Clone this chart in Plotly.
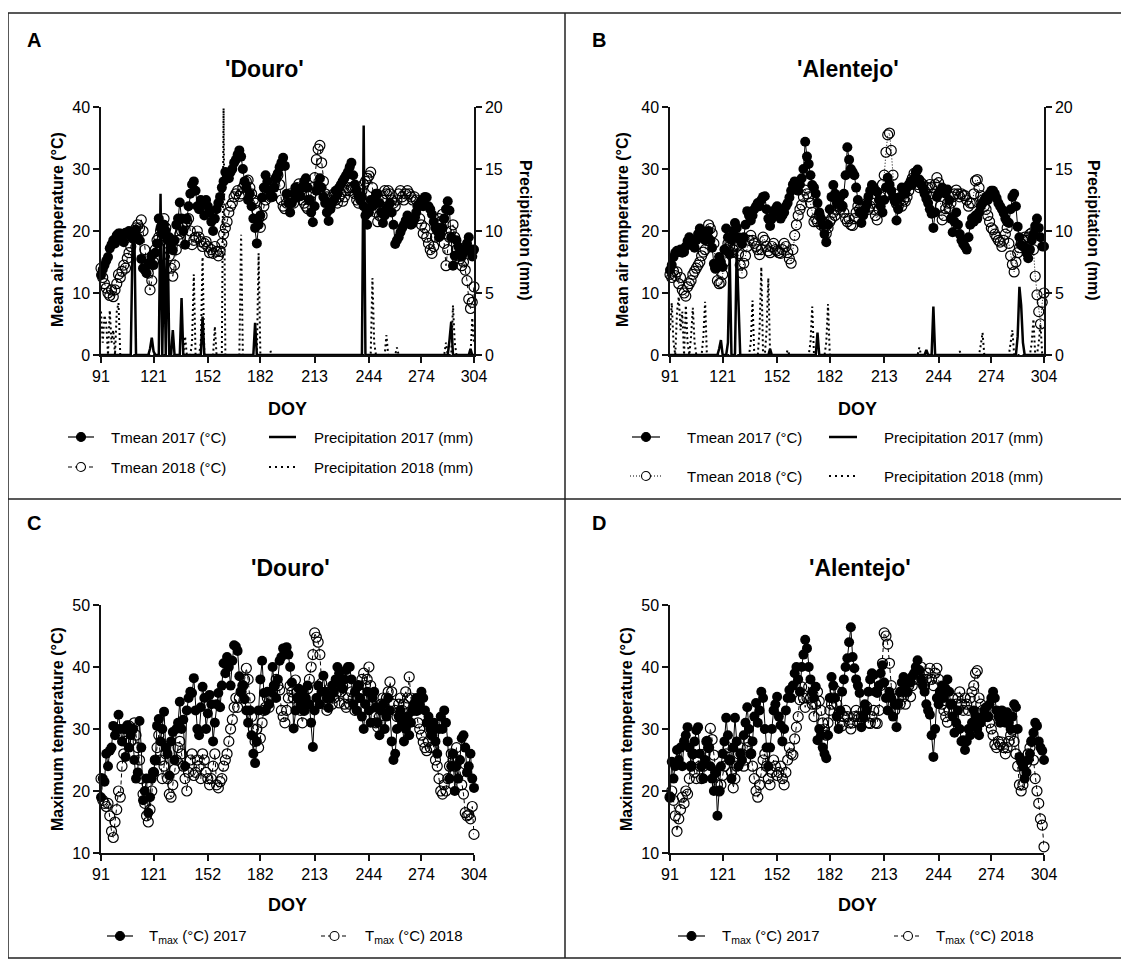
import plotly.graph_objects as go

# the page body has an 8px margin, so the figure is drawn 8px smaller and
# every layout position below is given in window pixels
OFF = 8
W, H = 1129 - OFF, 961 - OFF
FONT = "Liberation Sans, Arial, sans-serif"

doy = list(range(91, 305))
doy_ticks = [91, 121, 152, 182, 213, 244, 274, 304]

# Mean air temperature, Douro
tmean_douro_2017 = [
    12.9, 13.8, 14.5, 15.2, 15.8, 17.2, 17.8, 18.5, 18.0, 19.3,
    19.6, 19.6, 19.0, 18.2, 19.7, 19.6, 20.0, 19.3, 18.8, 19.5,
    20.2, 19.0, 18.5, 15.5, 14.0, 13.7, 13.2, 14.6, 15.0, 16.0,
    14.5, 16.5, 18.0, 22.0, 20.5, 19.5, 21.0, 20.0, 18.5, 19.0,
    17.8, 16.9, 18.5, 21.0, 22.0, 24.6, 22.0, 20.0, 17.8, 22.0,
    24.0, 26.0, 27.5, 28.0, 26.5, 24.0, 23.5, 25.0, 24.5, 22.5,
    25.0, 24.0, 23.0, 21.5, 20.0, 22.0, 23.5, 24.5, 25.5, 27.0,
    28.0, 29.5, 29.0, 28.5, 29.5, 30.0, 31.0, 31.5, 32.3, 33.0,
    32.0, 30.0, 28.0, 27.0, 25.0, 26.0, 24.0, 22.0, 20.5, 18.0,
    21.0, 22.5, 25.4, 27.0, 29.0, 28.0, 26.5, 25.6, 25.5, 27.0,
    28.5, 29.3, 30.3, 31.0, 31.8, 30.5, 26.0, 24.5, 23.0, 24.5,
    26.0, 27.0, 25.5, 26.5, 25.6, 27.0, 28.0, 28.5, 27.0, 25.0,
    23.0, 21.4, 24.0, 26.5, 27.5, 28.5, 27.0, 25.5, 24.5, 23.0,
    21.6, 23.5, 24.5, 25.0, 26.5, 26.0, 27.0, 27.5, 28.0, 28.5,
    29.0, 29.5, 30.3, 31.0, 29.0, 27.5, 26.5, 25.7, 25.0, 25.5,
    24.0, 22.5, 21.0, 23.0, 25.0, 24.0, 25.0, 26.0, 26.0, 24.5,
    23.0, 21.3, 22.5, 23.5, 24.0, 24.5, 23.0, 21.0, 17.9, 18.5,
    19.0, 19.8, 20.5, 21.0, 21.7, 22.5, 21.8, 21.0, 21.2, 22.0,
    23.0, 24.0, 24.5, 25.0, 24.0, 25.5, 25.4, 24.0, 23.5, 22.7,
    21.5, 20.5, 20.0, 19.0, 19.5, 20.5, 22.0, 23.5, 24.8, 23.3,
    19.0, 14.4, 16.0, 18.5, 17.5, 16.5, 15.9, 16.5, 17.0, 18.0,
    19.0, 17.0, 15.9, 17.0,
]
tmean_douro_2018 = [
    14.0, 12.5, 11.5, 10.8, 10.0, 9.6, 10.5, 9.4, 10.5, 11.5,
    13.0, 12.5, 13.5, 14.5, 14.0, 15.6, 16.5, 17.5, 19.0, 19.5,
    20.5, 21.0, 20.5, 21.8, 20.0, 17.0, 15.0, 13.2, 10.5, 12.0,
    15.0, 17.0, 18.5, 19.0, 20.0, 21.0, 22.0, 20.5, 18.0, 16.0,
    14.0, 12.7, 14.5, 17.0, 18.5, 19.5, 20.0, 20.5, 21.0, 21.5,
    22.0, 20.0, 17.8, 18.5, 19.0, 20.0, 19.0, 18.3, 17.5, 18.0,
    18.3, 17.5, 16.5, 17.0, 16.4, 17.5, 16.7, 16.0, 16.7, 18.0,
    19.5, 20.5, 21.5, 23.0, 24.0, 24.5, 25.5, 26.0, 26.5, 25.6,
    26.0, 27.0, 27.5, 28.0, 28.2, 27.0, 26.0, 25.0, 24.5, 23.3,
    22.0, 20.6, 22.5, 24.0, 25.0, 26.5, 26.0, 25.5, 27.0, 28.0,
    28.5, 29.0, 27.5, 25.0, 24.0, 23.6, 24.5, 25.5, 26.0, 25.0,
    24.5, 26.0, 27.0, 27.6, 26.5, 25.0, 24.5, 24.0, 23.6, 25.0,
    26.0, 27.0, 28.6, 31.5, 33.2, 33.8, 31.0, 28.0, 26.0, 25.5,
    25.0, 24.5, 25.5, 26.0, 25.0, 24.5, 25.5, 26.0, 24.8, 25.5,
    26.5, 27.0, 26.5, 27.0, 27.0, 26.0, 25.0, 24.5, 25.5, 26.5,
    27.5, 28.0, 28.5, 28.9, 29.5, 27.0, 25.0, 23.0, 21.5, 22.5,
    24.0, 25.0, 26.5, 26.0, 26.5, 26.0, 25.0, 24.5, 24.0, 25.0,
    26.0, 26.5, 25.5, 25.0, 26.0, 26.5, 26.0, 25.5, 25.0, 25.5,
    25.0, 24.0, 22.0, 21.0, 19.6, 20.5, 19.0, 18.0, 17.0, 16.4,
    17.5, 19.0, 21.0, 22.0, 21.5, 22.7, 18.0, 14.4, 17.0, 19.0,
    20.0, 21.0, 19.0, 17.0, 16.0, 15.5, 14.4, 15.0, 13.7, 12.0,
    9.0, 7.5, 8.5, 11.0,
]

# Mean air temperature, Alentejo
tmean_alentejo_2017 = [
    13.7, 14.5, 15.8, 16.5, 16.8, 16.6, 17.0, 16.5, 16.6, 17.5,
    18.4, 19.0, 18.5, 18.0, 17.3, 18.5, 19.5, 20.4, 19.8, 19.0,
    18.5, 19.3, 20.0, 18.5, 17.3, 14.7, 14.0, 14.5, 15.8, 15.0,
    14.2, 17.0, 20.4, 19.0, 16.3, 18.5, 20.0, 21.3, 20.5, 19.0,
    18.5, 17.9, 19.0, 21.0, 23.2, 22.5, 21.7, 22.5, 23.5, 24.0,
    24.5, 24.0, 25.0, 25.5, 25.6, 23.5, 22.0, 20.8, 22.0, 23.0,
    23.5, 24.0, 23.0, 22.0, 22.5, 23.0, 24.0, 24.5, 25.4, 26.5,
    27.5, 28.0, 27.0, 26.5, 27.5, 28.5, 30.0, 34.4, 32.0, 30.8,
    29.0, 27.4, 27.0, 26.0, 24.5, 23.0, 22.0, 21.0, 19.5, 18.2,
    21.0, 23.5, 25.5, 27.4, 26.0, 24.5, 25.0, 25.5, 24.0, 26.0,
    29.0, 33.5, 31.5, 30.0, 29.5, 29.0, 27.0, 25.0, 23.0, 21.3,
    22.5, 23.5, 24.3, 25.5, 26.5, 27.4, 27.0, 26.5, 26.3, 25.0,
    24.0, 23.0, 25.0, 27.0, 28.6, 27.5, 26.5, 25.5, 24.8, 21.7,
    23.5, 25.5, 27.0, 26.5, 26.0, 27.0, 27.5, 28.0, 27.5, 28.5,
    29.5, 29.9, 28.3, 27.5, 27.0, 26.0, 25.2, 24.5, 23.5, 22.8,
    20.5, 23.0, 25.5, 26.0, 26.5, 27.0, 26.5, 26.0, 26.7, 25.0,
    22.0, 19.8, 21.5, 23.0, 21.0, 19.5, 18.5, 17.9, 17.5, 17.0,
    19.0, 21.0, 22.0, 21.5, 22.5, 22.0, 23.0, 24.0, 24.5, 25.0,
    25.5, 25.0, 26.0, 26.5, 26.5, 26.0, 25.3, 24.5, 24.0, 23.5,
    22.9, 22.0, 21.5, 21.3, 23.5, 25.5, 26.0, 24.0, 20.7, 19.0,
    17.7, 17.5, 17.4, 16.5, 15.6, 17.0, 18.5, 19.5, 20.8, 22.0,
    20.5, 19.0, 17.5, 17.5,
]
tmean_alentejo_2018 = [
    13.0, 12.5, 13.5, 12.8, 13.4, 11.5, 12.5, 10.5, 10.0, 9.5,
    11.0, 11.5, 12.0, 13.0, 13.5, 14.0, 14.5, 15.0, 16.0, 16.6,
    17.0, 18.5, 21.0, 20.4, 19.6, 18.0, 14.0, 12.0, 11.5, 11.7,
    13.0, 15.0, 17.0, 18.0, 17.5, 16.5, 17.0, 18.5, 17.5, 16.3,
    14.5, 13.2, 14.8, 16.0, 17.5, 18.5, 19.3, 18.5, 18.0, 17.5,
    17.0, 16.2, 17.0, 19.0, 18.5, 17.5, 16.8, 16.5, 17.5, 18.0,
    17.0, 16.8, 16.5, 16.4, 17.0, 18.0, 17.5, 16.5, 15.5, 14.8,
    17.0, 19.3, 21.0, 22.5, 23.5, 24.2, 25.5, 26.6, 26.0, 25.5,
    24.5, 23.0, 21.5, 22.0, 21.5, 22.5, 21.0, 21.5, 20.5, 19.6,
    20.5, 21.5, 22.0, 23.0, 22.5, 23.5, 24.0, 23.5, 24.0, 23.0,
    22.0, 21.5, 22.0, 21.0, 20.9, 22.0, 23.0, 24.0, 23.5, 23.0,
    23.0, 24.0, 24.5, 23.5, 24.0, 24.5, 23.5, 22.5, 21.8, 23.5,
    25.5, 27.5, 29.0, 32.7, 35.5, 35.8, 33.0, 29.0, 26.0, 24.4,
    24.0, 25.0, 24.0, 25.0, 24.8, 25.5, 26.5, 27.5, 28.5, 29.3,
    28.5, 27.5, 27.0, 27.8, 27.5, 26.5, 26.0, 27.0, 27.5, 27.0,
    26.0, 27.5, 28.6, 27.8, 24.0, 21.8, 22.5, 23.6, 24.5, 23.6,
    24.5, 25.5, 26.0, 26.6, 26.0, 25.5, 26.0, 25.7, 25.7, 25.0,
    24.0, 24.5, 24.5, 26.0, 28.1, 28.3, 27.0, 25.7, 25.0, 24.0,
    23.5, 22.5, 21.5, 20.5, 20.2, 19.5, 19.0, 18.5, 18.2, 17.5,
    18.5, 19.5, 20.5, 18.0, 16.0, 14.6, 13.4, 15.0, 16.5, 17.3,
    18.0, 18.5, 19.0, 18.5, 19.0, 19.5, 19.7, 17.0, 12.7, 9.7,
    7.0, 5.0, 8.5, 10.0,
]

# Precipitation: rainy days only, every other day is 0 mm
rain_douro_2017_days = [109, 110, 119, 120, 121, 125, 127, 129, 132, 137, 149, 179, 241, 290, 291, 302]
rain_douro_2017_mm = [9.0, 10.5, 0.5, 1.4, 0.3, 13.0, 9.0, 10.3, 2.0, 4.6, 3.1, 2.6, 18.5, 1.2, 2.7, 0.5]
rain_douro_2018_days = [91, 92, 93, 94, 96, 97, 98, 100, 101, 139, 143, 144, 148, 149, 156, 161,
                        171, 181, 188, 246, 247, 254, 260, 288, 292, 293, 303, 304]
rain_douro_2018_mm = [3.5, 1.0, 3.2, 2.5, 3.6, 1.0, 2.0, 3.5, 4.2, 1.5, 1.0, 6.5, 1.0, 7.9, 2.3, 19.9,
                      9.7, 8.2, 0.3, 6.2, 1.0, 1.6, 0.6, 1.0, 4.0, 1.0, 3.0, 1.0]
rain_alentejo_2017_days = [119, 120, 124, 125, 129, 130, 148, 175, 237, 241, 289, 290, 291, 292]
rain_alentejo_2017_mm = [0.5, 1.2, 1.0, 8.0, 8.6, 3.8, 0.5, 1.8, 0.4, 3.9, 1.5, 5.5, 4.0, 1.0]
rain_alentejo_2018_days = [91, 92, 93, 95, 96, 97, 98, 100, 101, 103, 104, 105, 110, 111, 137, 138,
                           142, 143, 146, 147, 158, 171, 172, 180, 181, 233, 256, 268, 269, 285,
                           286, 297, 298, 301, 302]
rain_alentejo_2018_mm = [2.0, 4.2, 1.0, 3.5, 4.7, 2.0, 3.5, 4.0, 1.0, 1.5, 3.8, 1.0, 1.5, 4.3, 1.0, 4.4,
                         2.0, 7.1, 2.0, 6.2, 0.4, 1.0, 3.9, 1.0, 4.1, 0.6, 0.3, 0.8, 1.8, 1.0,
                         2.0, 1.0, 2.9, 1.0, 2.5]

# Maximum temperature
tmax_douro_2017 = [
    19.0, 22.0, 21.5, 26.0, 24.0, 26.5, 27.0, 30.5, 29.0, 30.0,
    32.3, 30.0, 28.0, 30.0, 25.5, 30.6, 27.0, 29.0, 30.0, 25.0,
    22.0, 23.0, 31.3, 27.0, 18.5, 20.0, 22.0, 16.5, 19.0, 22.0,
    23.0, 25.0, 30.5, 31.6, 28.0, 30.0, 32.8, 27.0, 26.0, 22.5,
    28.0, 29.5, 25.0, 30.0, 31.0, 34.4, 30.0, 31.5, 24.0, 33.0,
    35.0, 36.0, 35.8, 38.2, 33.0, 30.0, 29.0, 33.5, 36.8, 35.0,
    30.0, 32.5, 35.5, 34.0, 28.0, 31.0, 34.0, 35.8, 33.5, 37.0,
    40.6, 39.0, 41.6, 40.0, 37.0, 41.0, 43.5, 43.3, 42.6, 38.5,
    36.0, 37.0, 34.8, 33.0, 31.0, 33.0, 29.0, 26.0, 24.5, 28.0,
    33.0, 38.0, 41.0, 35.8, 33.0, 36.0, 34.0, 36.0, 40.0, 37.0,
    35.0, 38.0, 41.0, 41.6, 43.0, 42.5, 43.2, 42.0, 40.0, 37.5,
    30.1, 33.0, 35.0, 36.5, 34.0, 36.0, 33.0, 35.0, 37.0, 34.0,
    31.0, 27.1, 33.0, 35.0, 37.0, 34.0, 36.0, 38.6, 36.0, 35.0,
    33.4, 35.0, 37.0, 36.0, 38.0, 40.0, 39.0, 37.0, 36.5, 38.0,
    39.5, 40.0, 40.0, 38.0, 34.0, 36.0, 33.0, 37.0, 35.0, 32.0,
    30.0, 34.0, 36.0, 33.0, 31.0, 35.0, 36.0, 33.5, 31.0, 29.0,
    33.0, 34.0, 30.0, 32.0, 35.0, 33.0, 28.0, 25.0, 26.0, 30.0,
    32.0, 33.0, 31.0, 28.0, 30.0, 32.0, 29.0, 31.0, 33.0, 34.0,
    35.0, 33.0, 34.0, 36.0, 35.0, 33.0, 31.0, 32.0, 30.0, 29.0,
    31.0, 28.0, 26.0, 30.0, 32.0, 30.0, 33.0, 31.0, 28.0, 22.0,
    24.0, 26.0, 20.0, 24.0, 22.0, 25.0, 28.5, 29.0, 27.0, 23.0,
    24.0, 26.0, 22.0, 20.5,
]
tmax_douro_2018 = [
    22.0, 18.5, 18.0, 17.5, 18.0, 16.0, 13.5, 12.5, 15.0, 17.0,
    20.0, 19.0, 24.0, 26.0, 28.0, 30.0, 30.5, 28.0, 30.0, 31.0,
    29.0, 27.0, 25.0, 22.0, 19.5, 18.0, 16.0, 15.0, 17.0, 20.0,
    23.0, 25.0, 27.0, 29.0, 25.0, 22.0, 24.0, 26.0, 22.0, 19.5,
    19.0, 21.0, 23.5, 25.0, 27.0, 28.0, 26.0, 24.0, 22.0, 20.0,
    23.0, 25.0, 26.0, 22.5, 23.0, 25.0, 24.0, 22.0, 26.0, 25.0,
    23.0, 22.0, 21.0, 22.0, 24.0, 26.0, 21.0, 20.5, 21.5, 22.0,
    24.0, 25.0, 26.0, 28.0, 30.0, 31.5, 33.5, 35.0, 33.5, 35.0,
    36.0, 37.0, 38.0, 39.8, 38.0, 35.0, 32.0, 30.0, 28.0, 30.0,
    27.0, 28.5, 31.0, 33.0, 33.5, 35.0, 33.5, 35.0, 36.0, 37.0,
    38.0, 37.0, 36.3, 33.0, 32.0, 31.0, 33.0, 35.0, 37.0, 36.0,
    35.0, 37.9, 36.0, 34.0, 33.0, 31.0, 33.0, 34.0, 36.5, 38.0,
    40.0, 42.0, 45.5, 44.8, 44.0, 42.0, 37.4, 35.0, 34.0, 33.0,
    35.0, 36.0, 34.0, 35.0, 37.0, 36.0, 34.2, 36.0, 37.0, 34.0,
    33.5, 35.0, 34.0, 36.0, 35.0, 33.0, 35.0, 37.0, 36.0, 38.0,
    39.0, 37.0, 38.0, 40.0, 37.0, 34.0, 32.0, 31.0, 30.3, 32.0,
    34.0, 35.0, 33.0, 35.0, 36.0, 37.6, 36.0, 34.0, 33.0, 32.0,
    34.0, 35.0, 33.0, 34.0, 36.0, 35.0, 38.4, 35.0, 33.0, 34.0,
    33.0, 31.0, 30.0, 29.0, 27.9, 27.0, 26.5, 28.0, 27.0, 29.0,
    27.0, 25.0, 24.0, 22.0, 20.0, 19.5, 21.0, 20.0, 22.0, 24.0,
    26.0, 25.0, 24.0, 27.0, 25.0, 23.0, 21.0, 19.5, 16.5, 16.0,
    16.2, 15.5, 17.5, 13.0,
]
tmax_alentejo_2017 = [
    19.0, 24.7, 22.0, 24.0, 26.6, 25.0, 27.0, 24.0, 28.0, 29.0,
    30.3, 27.0, 24.0, 26.0, 28.0, 29.8, 30.3, 26.0, 24.0, 22.0,
    25.0, 28.0, 27.0, 24.0, 22.0, 20.0, 23.0, 16.0, 20.0, 24.0,
    26.0, 28.0, 31.8, 29.0, 25.0, 22.0, 27.0, 31.8, 28.0, 24.0,
    26.0, 25.0, 29.0, 31.0, 33.5, 30.0, 26.0, 28.0, 32.0, 34.2,
    31.0, 33.0, 36.0, 35.0, 30.0, 27.0, 24.0, 27.0, 30.0, 33.0,
    34.0, 35.2, 32.0, 30.6, 28.0, 30.0, 33.0, 35.0, 36.3, 35.0,
    37.0, 39.0, 40.0, 38.0, 36.0, 40.0, 42.0, 44.4, 43.0, 40.0,
    38.0, 36.0, 35.0, 36.8, 28.2, 30.0, 29.0, 27.0, 26.0, 25.3,
    29.0, 35.0, 38.4, 37.0, 35.0, 32.0, 30.0, 33.0, 36.0, 38.0,
    40.0, 41.4, 44.0, 46.4, 41.6, 39.8, 38.0, 37.0, 35.8, 30.3,
    32.0, 34.0, 33.0, 36.0, 38.0, 39.0, 38.7, 36.0, 35.8, 37.0,
    39.0, 40.3, 37.5, 35.0, 33.0, 36.0, 35.0, 32.0, 34.0, 30.3,
    34.0, 36.0, 37.5, 38.4, 37.0, 36.0, 38.0, 37.5, 38.5, 39.0,
    40.0, 41.1, 39.5, 38.0, 37.0, 36.0, 34.0, 33.0, 32.3, 29.0,
    25.5, 30.0, 35.0, 34.0, 36.0, 37.0, 35.0, 36.5, 38.0, 36.0,
    34.0, 32.0, 29.4, 31.0, 33.0, 30.0, 28.0, 28.2, 26.6, 28.0,
    30.0, 29.0, 31.0, 33.0, 32.0, 30.0, 29.0, 31.0, 32.0, 33.0,
    33.5, 32.0, 34.0, 35.0, 36.0, 35.0, 33.0, 32.0, 31.0, 33.0,
    32.0, 31.0, 32.7, 31.0, 30.0, 32.0, 34.0, 33.5, 30.0, 25.5,
    24.7, 23.9, 22.0, 23.0, 25.0, 26.0, 28.0, 29.4, 31.0, 30.5,
    28.0, 27.0, 26.5, 25.0,
]
tmax_alentejo_2018 = [
    19.0, 20.0, 18.5, 16.0, 13.5, 15.5, 17.0, 19.0, 18.0, 20.0,
    19.5, 22.0, 24.0, 26.0, 23.0, 22.0, 25.0, 24.0, 22.0, 24.0,
    26.0, 28.0, 27.0, 30.1, 28.3, 25.8, 23.0, 21.0, 20.0, 21.0,
    22.5, 24.0, 26.0, 27.0, 25.0, 23.0, 20.5, 22.0, 24.0, 26.0,
    27.0, 26.0, 24.0, 25.0, 27.0, 28.0, 26.0, 24.0, 22.0, 20.0,
    19.0, 21.0, 23.0, 25.0, 26.0, 24.0, 22.0, 21.0, 23.0, 25.0,
    24.0, 22.5, 23.0, 24.0, 22.0, 21.0, 23.0, 25.0, 27.0, 26.0,
    25.8, 28.4, 30.3, 32.0, 34.7, 36.8, 35.0, 33.5, 35.0, 36.8,
    35.0, 34.0, 32.0, 34.0, 36.0, 34.5, 33.0, 31.0, 30.0, 29.0,
    31.0, 33.0, 34.0, 35.0, 36.3, 34.0, 32.4, 31.0, 30.5, 32.0,
    33.0, 32.0, 31.0, 30.0, 31.0, 32.0, 33.0, 32.0, 31.0, 32.0,
    33.0, 32.0, 33.6, 31.0, 30.9, 32.0, 33.0, 31.0, 30.9, 33.0,
    37.0, 40.6, 45.5, 45.0, 43.7, 40.6, 37.0, 35.0, 33.0, 34.0,
    35.0, 34.0, 36.0, 35.2, 34.0, 36.0, 37.0, 35.2, 37.0, 38.0,
    39.0, 38.0, 39.0, 40.0, 38.0, 37.0, 38.0, 39.0, 39.8, 38.0,
    37.0, 39.0, 39.8, 38.0, 36.0, 34.0, 33.0, 32.0, 31.1, 33.0,
    34.0, 35.0, 33.0, 34.0, 35.0, 36.0, 34.0, 33.0, 35.0, 34.0,
    33.0, 35.0, 36.0, 37.0, 39.0, 39.4, 35.0, 34.0, 33.0, 32.0,
    33.0, 32.0, 31.0, 30.0, 29.0, 27.5, 27.0, 28.0, 27.5, 27.9,
    27.0, 26.0, 27.0, 28.0, 29.0, 29.8, 28.0, 26.0, 24.0, 21.0,
    20.0, 21.0, 23.0, 24.5, 26.0, 27.0, 28.0, 25.0, 22.0, 20.0,
    18.0, 15.5, 14.5, 11.0,
]


def daily(days, mm):
    out = [0.0] * len(doy)
    for d, v in zip(days, mm):
        out[d - 91] = v
    return out


def fx(x):
    return (x - OFF) / W


def fy(y):
    return 1 - (y - OFF) / H


fig = go.Figure()


def temp_trace(y, xa, ya, open_marker, dash):
    if open_marker:
        marker = dict(symbol="circle-open", size=10, color="black", line=dict(width=1.2))
    else:
        marker = dict(symbol="circle", size=10, color="black")
    return go.Scatter(x=doy, y=y, xaxis=xa, yaxis=ya, mode="lines+markers",
                      line=dict(color="black", width=1, dash=dash), marker=marker,
                      cliponaxis=False, showlegend=False, hoverinfo="skip")


def rain_trace(y, xa, ya, dash, width):
    return go.Scatter(x=doy, y=y, xaxis=xa, yaxis=ya, mode="lines",
                      line=dict(color="black", width=width, dash=dash),
                      cliponaxis=False, showlegend=False, hoverinfo="skip")


# A: Douro mean + rain
fig.add_trace(temp_trace(tmean_douro_2018, "x", "y", True, "4px,3px"))
fig.add_trace(temp_trace(tmean_douro_2017, "x", "y", False, "solid"))
fig.add_trace(rain_trace(daily(rain_douro_2018_days, rain_douro_2018_mm), "x", "y2", "2px,3px", 2))
fig.add_trace(rain_trace(daily(rain_douro_2017_days, rain_douro_2017_mm), "x", "y2", "solid", 2.5))
# B: Alentejo mean + rain
fig.add_trace(temp_trace(tmean_alentejo_2018, "x2", "y3", True, "1px,2px"))
fig.add_trace(temp_trace(tmean_alentejo_2017, "x2", "y3", False, "solid"))
fig.add_trace(rain_trace(daily(rain_alentejo_2018_days, rain_alentejo_2018_mm), "x2", "y4", "2px,3px", 2))
fig.add_trace(rain_trace(daily(rain_alentejo_2017_days, rain_alentejo_2017_mm), "x2", "y4", "solid", 2.5))
# C, D: Tmax
fig.add_trace(temp_trace(tmax_douro_2018, "x3", "y5", True, "4px,3px"))
fig.add_trace(temp_trace(tmax_douro_2017, "x3", "y5", False, "solid"))
fig.add_trace(temp_trace(tmax_alentejo_2018, "x4", "y6", True, "4px,3px"))
fig.add_trace(temp_trace(tmax_alentejo_2017, "x4", "y6", False, "solid"))

axis_style = dict(showline=True, linecolor="#111", linewidth=1.5, ticks="outside",
                  ticklen=6, tickwidth=1.5, tickcolor="#111", showgrid=False,
                  zeroline=False, automargin=False,
                  tickfont=dict(family=FONT, size=16, color="black"))

left_dom = [fx(101), fx(474)]
right_dom = [fx(670), fx(1044)]
top_dom = [fy(355), fy(107)]
bot_dom = [fy(853), fy(605)]

xa = dict(range=[91, 304], tickvals=doy_ticks, **axis_style)
fig.update_layout(
    xaxis=dict(domain=left_dom, anchor="y", **xa),
    xaxis2=dict(domain=right_dom, anchor="y3", **xa),
    xaxis3=dict(domain=left_dom, anchor="y5", **xa),
    xaxis4=dict(domain=right_dom, anchor="y6", **xa),
    yaxis=dict(domain=top_dom, anchor="x", range=[0, 40], dtick=10, **axis_style),
    yaxis2=dict(overlaying="y", side="right", anchor="x", range=[0, 20], dtick=5, **axis_style),
    yaxis3=dict(domain=top_dom, anchor="x2", range=[0, 40], dtick=10, **axis_style),
    yaxis4=dict(overlaying="y3", side="right", anchor="x2", range=[0, 20], dtick=5, **axis_style),
    yaxis5=dict(domain=bot_dom, anchor="x3", range=[10, 50], dtick=10, **axis_style),
    yaxis6=dict(domain=bot_dom, anchor="x4", range=[10, 50], dtick=10, **axis_style),
)

ann = []
shapes = []


def text(x, y, s, size=15, bold=False, anchor="left", angle=0):
    if bold:
        s = "<b>" + s + "</b>"
    ann.append(dict(x=fx(x), y=fy(y), xref="paper", yref="paper", text=s, showarrow=False,
                    xanchor=anchor, yanchor="middle", textangle=angle,
                    font=dict(family=FONT, size=size, color="black")))


def seg(x0, x1, y, dash="solid", width=1.2):
    shapes.append(dict(type="line", xref="paper", yref="paper", x0=fx(x0), x1=fx(x1),
                       y0=fy(y), y1=fy(y), line=dict(color="black", width=width, dash=dash)))


def dot(x, y, filled, r=4.5):
    shapes.append(dict(type="circle", xref="paper", yref="paper", x0=fx(x - r), x1=fx(x + r),
                       y0=fy(y + r), y1=fy(y - r), line=dict(color="black", width=1.1),
                       fillcolor="black" if filled else "white"))


# panel frames
shapes.append(dict(type="rect", xref="paper", yref="paper", x0=fx(8), x1=fx(1127),
                   y0=fy(958), y1=fy(13), line=dict(color="#222", width=1.5)))
shapes.append(dict(type="line", xref="paper", yref="paper", x0=fx(565), x1=fx(565),
                   y0=fy(958), y1=fy(13), line=dict(color="#222", width=1.5)))
shapes.append(dict(type="line", xref="paper", yref="paper", x0=fx(8), x1=fx(1127),
                   y0=fy(499), y1=fy(499), line=dict(color="#222", width=1.5)))

# panel letters and titles
for lx, ly, s in [(25, 40, "A"), (590, 40, "B"), (25, 523, "C"), (590, 523, "D")]:
    text(lx, ly, s, size=20, bold=True)
text(264, 69, "'Douro'", size=23, bold=True, anchor="center")
text(848, 69, "'Alentejo'", size=23, bold=True, anchor="center")
text(290, 568, "'Douro'", size=23, bold=True, anchor="center")
text(860, 568, "'Alentejo'", size=23, bold=True, anchor="center")

# axis titles
for cx in (287, 857):
    text(cx, 409, "DOY", size=18, bold=True, anchor="center")
    text(cx, 905, "DOY", size=18, bold=True, anchor="center")
text(57, 230, "Mean air temperature (°C)", size=16, bold=True, anchor="center", angle=-90)
text(622, 230, "Mean air temperature (°C)", size=16, bold=True, anchor="center", angle=-90)
text(526, 230, "Precipitation (mm)", size=16, bold=True, anchor="center", angle=90)
text(1094, 230, "Precipitation (mm)", size=16, bold=True, anchor="center", angle=90)
text(57, 729, "Maximum temperature (°C)", size=16, bold=True, anchor="center", angle=-90)
text(626, 729, "Maximum temperature (°C)", size=16, bold=True, anchor="center", angle=-90)

# legend A
seg(68, 94, 437)
dot(81, 437, True)
text(109, 437, "Tmean 2017 (°C)")
seg(269, 296, 437, width=2.5)
text(312, 437, "Precipitation 2017 (mm)")
seg(68, 94, 467, dash="4px,3px")
dot(81, 467, False)
text(109, 467, "Tmean 2018 (°C)")
seg(269, 296, 467, dash="2px,4px", width=2)
text(312, 467, "Precipitation 2018 (mm)")

# legend B
seg(632, 660, 437)
dot(646, 437, True)
text(685, 437, "Tmean 2017 (°C)")
seg(829, 857, 437, width=2.5)
text(882, 437, "Precipitation 2017 (mm)")
seg(630, 662, 476, dash="1px,2px")
dot(646, 476, False)
text(685, 476, "Tmean 2018 (°C)")
seg(829, 857, 476, dash="2px,4px", width=2)
text(882, 476, "Precipitation 2018 (mm)")

# legends C and D
for x0, x1, tx in [(107, 133, 147), (678, 705, 720)]:
    seg(x0, x1, 936)
    dot((x0 + x1) / 2, 936, True)
    text(tx, 936, "T<sub>max</sub> (°C) 2017")
for x0, x1, tx in [(321, 348, 363), (894, 922, 934)]:
    seg(x0, x1, 936, dash="4px,3px")
    dot((x0 + x1) / 2, 936, False)
    text(tx, 936, "T<sub>max</sub> (°C) 2018")

fig.update_layout(width=W, height=H, margin=dict(l=0, r=0, t=0, b=0, autoexpand=False),
                  template="none", paper_bgcolor="white", plot_bgcolor="white",
                  annotations=ann, shapes=shapes, showlegend=False)

fig.write_html("out.html")
